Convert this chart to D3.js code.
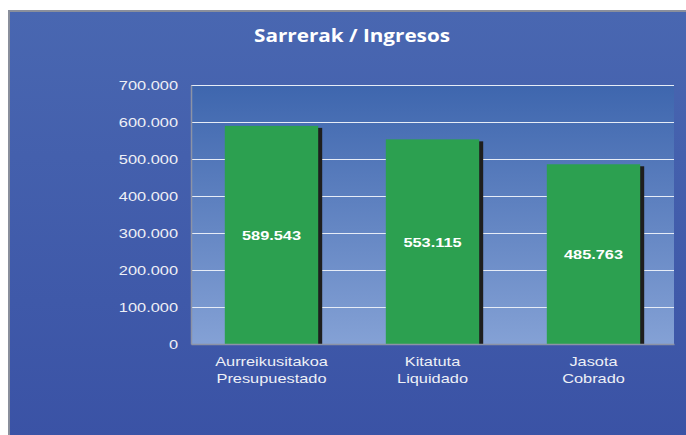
<!DOCTYPE html>
<html>
<head>
<meta charset="utf-8">
<script src="https://cdn.jsdelivr.net/npm/d3@7"></script>
<style>
  body { margin: 0; background: #fff; }
  svg { display: block; }
</style>
</head>
<body>
<div id="chart-area"></div>
<script>
// DATA
// ****
let categories = ["Aurreikusitakoa|Presupuestado", "Kitatuta|Liquidado", "Jasota|Cobrado"]
let values = [589543, 553115, 485763]
let valueLabels = ["589.543", "553.115", "485.763"]
let ticks = [0, 100000, 200000, 300000, 400000, 500000, 600000, 700000]
let tickLabels = ["0", "100.000", "200.000", "300.000", "400.000", "500.000", "600.000", "700.000"]

let W = 686, H = 435
let margin = {top: 85, right: 12, bottom: 91, left: 191}
let width = W - margin.left - margin.right
let height = H - margin.top - margin.bottom
let sx = 1.26  // text in the picture is stretched sideways

let svg = d3.select("#chart-area")
  .append("svg")
    .attr("width", W)
    .attr("height", H)

let defs = svg.append("defs")
let bgGrad = defs.append("linearGradient").attr("id", "bg").attr("x1", 0).attr("y1", 0).attr("x2", 0).attr("y2", 1)
bgGrad.append("stop").attr("offset", "0%").attr("stop-color", "#4967b1")
bgGrad.append("stop").attr("offset", "100%").attr("stop-color", "#3a52a5")
let plotGrad = defs.append("linearGradient").attr("id", "plotbg").attr("x1", 0).attr("y1", 0).attr("x2", 0).attr("y2", 1)
plotGrad.append("stop").attr("offset", "0%").attr("stop-color", "#3e66ae")
plotGrad.append("stop").attr("offset", "100%").attr("stop-color", "#84a1d5")

// stretched text helper
function stext(sel, x, y, s) {
  return sel.append("text")
    .attr("transform", "translate(" + x + "," + y + ") scale(" + s + ",1)")
}

// outer box
svg.append("rect")
  .attr("x", 9).attr("y", 11)
  .attr("width", W).attr("height", H)
  .attr("fill", "url(#bg)")
  .attr("stroke", "#8a8f9c")
  .attr("stroke-width", 2)

// title
stext(svg, 352, 42, 1.15)
  .attr("text-anchor", "middle")
  .attr("font-family", "'Open Sans', sans-serif")
  .attr("font-weight", "bold")
  .attr("font-size", "18px")
  .attr("fill", "#ffffff")
  .text("Sarrerak / Ingresos")

let g = svg.append("g")
  .attr("transform", "translate(" + margin.left + ", " + margin.top + ")")

// SCALES
let x = d3.scaleBand().domain(categories).range([0, width]).paddingInner(0.42).paddingOuter(0.21)
let y = d3.scaleLinear().domain([0, 700000]).range([height, 0])

// plot background
g.append("rect")
  .attr("width", width)
  .attr("height", height)
  .attr("fill", "url(#plotbg)")

// gridlines
g.selectAll(".grid").data(ticks.slice(1)).enter()
  .append("line")
    .attr("class", "grid")
    .attr("x1", 0).attr("x2", width)
    .attr("y1", d => Math.round(y(d)) + 0.5)
    .attr("y2", d => Math.round(y(d)) + 0.5)
    .attr("stroke", "#e6ecf7")
    .attr("stroke-width", 1.2)

// bars: shadow then bar
g.selectAll(".shadow").data(values).enter()
  .append("rect")
    .attr("class", "shadow")
    .attr("x", (d, i) => x(categories[i]) + 4)
    .attr("y", d => y(d) + 2)
    .attr("width", x.bandwidth())
    .attr("height", d => height - y(d) - 2)
    .attr("fill", "#1e1e1e")

g.selectAll(".bar").data(values).enter()
  .append("rect")
    .attr("class", "bar")
    .attr("x", (d, i) => x(categories[i]))
    .attr("y", d => y(d))
    .attr("width", x.bandwidth())
    .attr("height", d => height - y(d))
    .attr("fill", "#2ca050")

// value labels
values.forEach((d, i) => {
  stext(g, x(categories[i]) + x.bandwidth() / 2, (y(d) + height) / 2 + 5, sx)
    .attr("text-anchor", "middle")
    .attr("font-family", "'Liberation Sans', Arial, sans-serif")
    .attr("font-weight", "bold")
    .attr("font-size", "13px")
    .attr("fill", "#ffffff")
    .text(valueLabels[i])
})

// AXES
let leftAxis = d3.axisLeft(y).tickValues(ticks).tickFormat((d, i) => tickLabels[i]).tickSize(0).tickPadding(0)
let ly = g.append("g")
  .attr("class", "left axis")
  .call(leftAxis)
ly.select(".domain").attr("stroke", "#8c93a6").attr("stroke-width", 1.5)
ly.selectAll("text")
  .attr("x", 0)
  .attr("transform", "translate(-13,0) scale(" + sx + ",1)")
  .attr("font-family", "'Liberation Sans', Arial, sans-serif")
  .attr("font-size", "13px")
  .attr("fill", "#eef0f6")

let bottomAxis = d3.axisBottom(x).tickSize(0).tickFormat("")
let bx = g.append("g")
  .attr("class", "bottom axis")
  .attr("transform", "translate(0, " + height + ")")
  .call(bottomAxis)
bx.select(".domain").attr("stroke", "#8c93a6").attr("stroke-width", 1.5)

// category labels, two lines
categories.forEach(c => {
  let lines = c.split("|")
  let t = stext(g, x(c) + x.bandwidth() / 2, height + 22, sx)
    .attr("text-anchor", "middle")
    .attr("font-family", "'Liberation Sans', Arial, sans-serif")
    .attr("font-size", "13px")
    .attr("fill", "#eef0f6")
  lines.forEach((l, i) => {
    t.append("tspan")
      .attr("x", 0)
      .attr("dy", i === 0 ? 0 : 17)
      .text(l)
  })
})
</script>
</body>
</html>
